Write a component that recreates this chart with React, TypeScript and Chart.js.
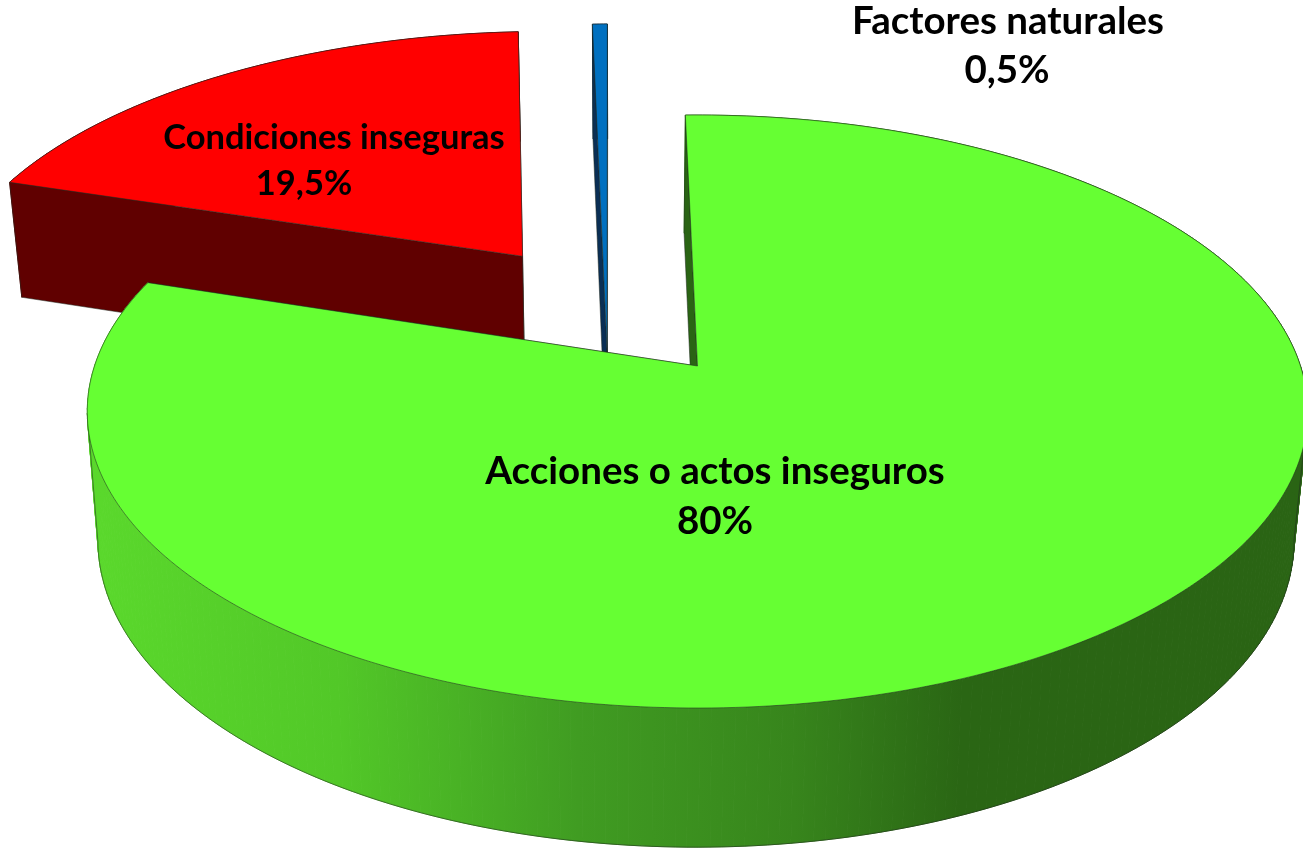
import React, { useEffect, useRef } from "react";
import { Chart, ArcElement, PieController } from "chart.js";

// ---- data -------------------------------------------------------------
const categories = ["Condiciones inseguras", "Factores naturales", "Acciones o actos inseguros"];
const shares = [19.5, 0.5, 80];
const shareLabels = ["19,5%", "0,5%", "80%"];
const faceColors = ["#ff0000", "#0070c0", "#66ff33"];

// ---- look -------------------------------------------------------------
const ROTATION = -72.5;
const explode = [
  { du: -0.308, dv: -0.4025, radius: 1.002, turn: -0.4, spread: 0.99, lift: -5.5 },
  { du: -0.151, dv: -0.0483, radius: 1.395, turn: -0.52, spread: 0.69, lift: 0 },
  { du: 0, dv: 0, radius: 1, turn: -0.4, spread: 1.003, lift: 0 },
];
const wallColors: (string | [number, string][])[] = [
  "#600000",
  "#0a2f55",
  [
    [0, "#5ad82c"],
    [0.2, "#52c828"],
    [0.4, "#409c22"],
    [0.58, "#37851c"],
    [0.72, "#2a6614"],
    [1, "#2a6414"],
  ],
];
const radialWallColors = ["#600000", "#0a2f55", "#2a6414"];
const labelAnchors = [
  { x: 334, y: 138, px: 304, py: 184, size: 34.5 },
  { x: 1008, y: 22, px: 1007, py: 71, size: 38.5 },
  { x: 715, y: 472, px: 715, py: 522, size: 38.5 },
];

// perspective of the upper and lower faces of the disc
const K = 0.1535;
const topFace = (u: number, v: number): [number, number] => {
  const w = 1 - K * v;
  return [697.5 + (603 * u) / w, 366 + (289.5 * v) / w];
};
const bottomFace = (u: number, v: number, lift = 0): [number, number] => {
  const w = 1 - K * v;
  return [696 + (591 * u) / w, 493 + lift + (299.8 * v) / w];
};

class Arc3D extends ArcElement {
  static id = "arc3d";
  static defaults = { ...ArcElement.defaults };
  sliceIndex = 0;

  draw(ctx: CanvasRenderingContext2D) {
    const { startAngle, endAngle } = (this as any).getProps(["startAngle", "endAngle"], true);
    const e = explode[this.sliceIndex];
    const mid = (startAngle + endAngle) / 2 + (e.turn * Math.PI) / 180;
    const half = ((endAngle - startAngle) / 2) * e.spread;
    const a0 = mid - half;
    const a1 = mid + half;
    const steps = Math.max(4, Math.ceil((a1 - a0) * 60));
    const rim: [number, number][] = [];
    for (let i = 0; i <= steps; i++) {
      const a = a0 + ((a1 - a0) * i) / steps;
      rim.push([e.du + e.radius * Math.cos(a), e.dv + e.radius * Math.sin(a)]);
    }
    const centre: [number, number] = [e.du, e.dv];
    const low = (p: [number, number]) => bottomFace(p[0], p[1], e.lift);
    const high = (p: [number, number]) => topFace(p[0], p[1]);

    const path = (pts: [number, number][], close = true) => {
      ctx.beginPath();
      pts.forEach((p, i) => (i ? ctx.lineTo(p[0], p[1]) : ctx.moveTo(p[0], p[1])));
      if (close) ctx.closePath();
    };
    const edge = "rgba(30,40,30,0.65)";
    ctx.save();
    ctx.lineJoin = "round";

    // outer wall: one strip per rim step, so the silhouette between both faces is filled
    const wc = wallColors[this.sliceIndex];
    let wallFill: string | CanvasGradient;
    if (typeof wc === "string") wallFill = wc;
    else {
      const g = ctx.createLinearGradient(100, 0, 1296, 0);
      wc.forEach(([o, c]) => g.addColorStop(o, c));
      wallFill = g;
    }
    ctx.fillStyle = wallFill;
    ctx.strokeStyle = wallFill;
    ctx.lineWidth = 1;
    let minI = 0;
    let maxI = 0;
    for (let i = 0; i < rim.length; i++) {
      if (low(rim[i])[0] < low(rim[minI])[0]) minI = i;
      if (low(rim[i])[0] > low(rim[maxI])[0]) maxI = i;
      if (i < rim.length - 1) {
        path([high(rim[i]), high(rim[i + 1]), low(rim[i + 1]), low(rim[i])]);
        ctx.fill();
        ctx.stroke();
      }
    }
    // radial walls
    ctx.strokeStyle = edge;
    ctx.lineWidth = 0.8;
    for (const r of [rim[rim.length - 1], rim[0]]) {
      path([high(r), high(centre), low(centre), low(r)]);
      ctx.fillStyle = radialWallColors[this.sliceIndex];
      ctx.fill();
      ctx.stroke();
    }

    // visible part of the lower rim and the two silhouette edges
    if (maxI < minI) {
      path(rim.slice(maxI, minI + 1).map(low), false);
      ctx.stroke();
      for (const i of [minI, maxI]) {
        path([high(rim[i]), low(rim[i])], false);
        ctx.stroke();
      }
    }

    // upper face
    path([high(centre), ...rim.map(high)]);
    ctx.fillStyle = (this as any).options.backgroundColor;
    ctx.fill();
    ctx.stroke();
    ctx.restore();
  }
}

class Pie3DController extends PieController {
  static id = "pie3d";
  static defaults = { dataElementType: "arc3d" };

  draw() {
    const ctx = (this as any).chart.ctx;
    (this as any).getMeta().data.forEach((el: Arc3D, i: number) => {
      el.sliceIndex = i;
      el.draw(ctx);
    });
  }
}

const sliceLabels = {
  id: "sliceLabels",
  afterDatasetsDraw(chart: Chart) {
    const { ctx } = chart;
    ctx.save();
    ctx.fillStyle = "#000";
    ctx.textAlign = "center";
    ctx.textBaseline = "middle";
    categories.forEach((c, i) => {
      const a = labelAnchors[i];
      ctx.font = `bold ${a.size}px Lato, "Open Sans", sans-serif`;
      ctx.fillText(c, a.x, a.y);
      ctx.fillText(shareLabels[i], a.px, a.py);
    });
    ctx.restore();
  },
};

Chart.register(Arc3D, Pie3DController);

export default function App() {
  const ref = useRef<HTMLCanvasElement>(null);
  useEffect(() => {
    document.body.style.margin = "0";
    const chart = new Chart(ref.current!, {
      type: "pie3d" as any,
      data: {
        labels: categories,
        datasets: [{ data: shares, backgroundColor: faceColors, borderWidth: 0 }],
      },
      options: {
        responsive: false,
        animation: false,
        rotation: ROTATION,
        plugins: { legend: { display: false }, tooltip: { enabled: false } },
        events: [],
      } as any,
      plugins: [sliceLabels],
    });
    return () => chart.destroy();
  }, []);
  return <canvas ref={ref} width={1303} height={849} style={{ display: "block" }} />;
}
